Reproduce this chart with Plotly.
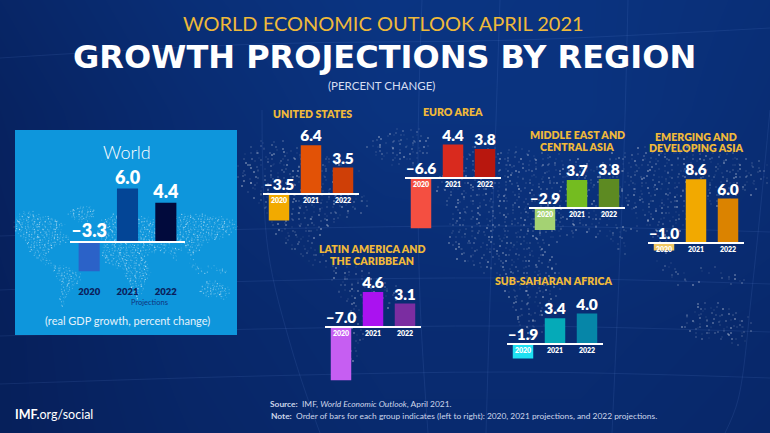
import plotly.graph_objects as go

# ---- data ----
years = ["2020", "2021", "2022"]
world = [-3.3, 6.0, 4.4]
united_states = [-3.5, 6.4, 3.5]
euro_area = [-6.6, 4.4, 3.8]
middle_east = [-2.9, 3.7, 3.8]
emerging_asia = [-1.0, 8.6, 6.0]
latin_america = [-7.0, 4.6, 3.1]
sub_saharan = [-1.9, 3.4, 4.0]

FONT = "Lato"
W, H = 770, 433
GOLD = "#efb93a"

# panel: values, colours, axis line x0, x1, zero-line y, px per unit, label size, bar width
panels = [
    (world, ["#2b62c8", "#034596", "#010a3c"], 70, 185, 242, 8.9, 18, 0.55),
    (united_states, ["#f2aa00", "#e25206", "#cf3f07"], 263, 359, 194, 7.6, 15.5, 0.64),
    (euro_area, ["#f44f41", "#d92a1e", "#b8170e"], 405, 501, 178, 7.6, 15.5, 0.64),
    (middle_east, ["#a4d273", "#74bc20", "#5d8a22"], 529, 625, 208, 7.6, 15.5, 0.64),
    (emerging_asia, ["#f0c763", "#f2a900", "#db8300"], 648, 744, 243, 7.4, 15.5, 0.64),
    (latin_america, ["#c65ef2", "#aa12f0", "#7b2da1"], 325, 421, 327, 7.6, 15.5, 0.64),
    (sub_saharan, ["#1fe0f2", "#05aab8", "#0686a8"], 507, 603, 344, 7.6, 15.5, 0.64),
]

# background shading (rows top to bottom)
bg_x = [0, 190, 385, 580, 770]
bg_y = [0, 110, 220, 330, 433]
bg_z = [
    [0.25, 0.55, 0.75, 0.70, 0.55],
    [0.15, 0.45, 0.70, 0.70, 0.50],
    [0.10, 0.40, 0.55, 0.60, 0.45],
    [0.05, 0.30, 0.45, 0.45, 0.35],
    [0.05, 0.25, 0.40, 0.40, 0.30],
]

# speckled world map: rows of land extents
map_rows = {
    132: [(390, 425)], 138: [(375, 430)], 144: [(258, 285), (370, 432)],
    150: [(250, 300), (370, 430), (470, 500), (510, 530), (640, 700)],
    156: [(245, 330), (375, 425), (460, 505), (505, 560), (610, 740)],
    162: [(242, 345), (390, 415), (450, 510), (505, 590), (605, 760)],
    168: [(240, 355), (455, 515), (510, 770)], 174: [(240, 360), (445, 770)],
    180: [(240, 350), (440, 770)], 186: [(245, 345), (440, 760)],
    192: [(250, 355), (440, 750)], 198: [(255, 370), (445, 735)],
    204: [(260, 372), (450, 730)], 210: [(265, 365), (455, 620), (630, 700)],
    216: [(270, 350), (450, 615), (640, 690)], 222: [(272, 340), (450, 610), (645, 685)],
    228: [(275, 330), (450, 600), (610, 640), (650, 680)],
    234: [(278, 322), (450, 575), (590, 630), (655, 675)],
    240: [(283, 315), (450, 555), (612, 628), (655, 670)],
    246: [(290, 315), (452, 550), (615, 625)],
    252: [(297, 318), (455, 550), (618, 625), (660, 668)],
    258: [(305, 325), (460, 555)], 264: [(315, 335), (470, 555), (660, 672)],
    270: [(335, 360), (485, 560), (665, 680), (700, 715)],
    276: [(335, 375), (500, 560), (670, 690), (720, 740)],
    282: [(335, 385), (505, 565), (680, 700), (730, 750)],
    288: [(338, 395), (505, 560)], 294: [(340, 398), (508, 558)],
    300: [(345, 396), (510, 555)], 306: [(350, 392), (512, 552), (695, 720)],
    312: [(350, 385), (515, 550), (690, 735)], 318: [(352, 380), (515, 548), (685, 748)],
    324: [(352, 375), (518, 545), (685, 752)], 330: [(352, 372), (520, 542), (685, 750)],
    336: [(352, 368), (522, 538), (695, 745)], 342: [(350, 365), (525, 535), (730, 745)],
    348: [(350, 362)], 354: [(350, 358)], 360: [(352, 358)],
}
jitter_x = [0, 3, -2, 2, -3, 1, 3, -1, -3, 2, 0, -2, 1, 3, -1, 2, -2]
jitter_y = [2, -3, 1, 3, -1, -2, 3, 0, -3, 2, -1, 1, -2, 3, -3]
shade = [0.6, 0.18, 0.32, 0.12, 0.45, 0.22, 0.1, 0.38, 0.15, 0.28, 0.7]

# faint graticule lines
grid_lines = [
    ([0, 260, 520, 770], [290, 281, 278, 284]),
    ([0, 260, 520, 770], [236, 229, 226, 232]),
    ([0, 260, 520, 770], [336, 329, 326, 332]),
    ([0, 260, 520, 770], [384, 376, 372, 378]),
    ([0, 260, 520, 770], [58, 44, 40, 28]),
    ([262, 268, 292, 320], [110, 250, 350, 433]),
    ([422, 418, 420, 428], [0, 150, 300, 433]),
    ([500, 495, 490, 486], [0, 150, 300, 433]),
    ([628, 624, 618, 612], [0, 150, 300, 433]),
    ([770, 752, 738, 725], [110, 290, 400, 433]),
]

fig = go.Figure()

# full-bleed pixel subplot holding the backdrop
fig.add_trace(go.Heatmap(x=bg_x, y=bg_y, z=bg_z, zmin=0, zmax=1, zsmooth="best",
                         colorscale=[[0, "#061e58"], [1, "#0c3c90"]], showscale=False,
                         hoverinfo="skip"))
for gx, gy in grid_lines:
    fig.add_trace(go.Scatter(x=gx, y=gy, mode="lines", hoverinfo="skip", showlegend=False,
                             line=dict(color="rgba(140,180,255,0.10)", width=1, shape="spline")))

dx, dy, da = [], [], []
n_pt = 0
for row, spans in map_rows.items():
    for a, b in spans:
        for px in range(a, b, 4):
            dx.append(px + jitter_x[n_pt % len(jitter_x)])
            dy.append(row + jitter_y[n_pt % len(jitter_y)])
            da.append(shade[n_pt % len(shade)])
            n_pt += 1
fig.add_trace(go.Scatter(x=dx, y=dy, mode="markers", hoverinfo="skip", showlegend=False,
                         marker=dict(size=1.5, color=[f"rgba(255,255,255,{a})" for a in da],
                                     line=dict(width=0))))

# world box and its miniature map
fig.add_trace(go.Scatter(x=[15, 237, 237, 15, 15], y=[130, 130, 335, 335, 130], mode="lines",
                         fill="toself", fillcolor="#0e96dc", line=dict(width=0),
                         hoverinfo="skip", showlegend=False))
fig.add_trace(go.Scatter(x=[15 + (p - 240) * 0.419 for p in dx],
                         y=[205 + (q - 126) * 0.43 for q in dy],
                         mode="markers", hoverinfo="skip", showlegend=False,
                         marker=dict(size=1.3, color=[f"rgba(255,255,255,{a * 0.8:.2f})" for a in da],
                                     line=dict(width=0))))

layout = dict(
    width=W, height=H, margin=dict(l=0, r=0, t=0, b=0), autosize=False,
    paper_bgcolor="#08276c", plot_bgcolor="rgba(0,0,0,0)", showlegend=False,
    font=dict(family=FONT, color="white"),
    xaxis=dict(domain=[0, 1], range=[0, W], visible=False, fixedrange=True),
    yaxis=dict(domain=[0, 1], range=[H, 0], visible=False, fixedrange=True),
)

Y_LOW, Y_HIGH = -8, 9
for i, (vals, cols, x0, x1, y0, s, fs, bw) in enumerate(panels):
    n = i + 2
    xa, ya = f"x{n}", f"y{n}"
    fig.add_trace(go.Bar(x=years, y=vals, marker=dict(color=cols, line=dict(width=0)),
                         width=bw, xaxis=xa, yaxis=ya, hoverinfo="skip"))
    fig.add_trace(go.Scatter(x=years, y=[max(v, 0) for v in vals],
                             text=[f"{v:.1f}".replace("-", "\u2013") for v in vals],
                             mode="text", textposition="top center", cliponaxis=False,
                             textfont=dict(family=FONT, size=fs, color="white", weight=800),
                             xaxis=xa, yaxis=ya, hoverinfo="skip"))
    is_world = i == 0
    layout[f"xaxis{n}"] = dict(
        domain=[x0 / W, x1 / W], type="category", range=[-0.5, 2.5], fixedrange=True,
        anchor="free", position=1 - y0 / H,
        showline=True, linecolor="white", linewidth=1.5, showgrid=False, zeroline=False,
        ticks="outside", ticklen=41 if is_world else 0, tickcolor="rgba(0,0,0,0)", tickwidth=1,
        tickfont=dict(family=FONT, size=9.5 if is_world else 7,
                      color="#0b1f5c" if is_world else "white", weight=800),
    )
    layout[f"yaxis{n}"] = dict(
        domain=[1 - (y0 - Y_LOW * s) / H, 1 - (y0 - Y_HIGH * s) / H],
        range=[Y_LOW, Y_HIGH], visible=False, fixedrange=True, anchor=xa,
    )


def label(text, x, y, size, color="white", weight=400, xanchor="center", family=FONT):
    return dict(text=text, x=x, y=y, xref="x", yref="y", showarrow=False, xanchor=xanchor,
                yanchor="middle", align="center",
                font=dict(family=family, size=size, color=color, weight=weight))


annots = [
    label("WORLD ECONOMIC OUTLOOK APRIL 2021", 383, 23, 20, GOLD),
    label("GROWTH PROJECTIONS BY REGION", 384, 57, 32, "white", 700, family="DejaVu Sans"),
    label("(PERCENT CHANGE)", 381, 85, 11.5, "#d5def2"),
    label("World", 127, 152, 18, "white", 300),
    label("Projections", 149, 302, 7.5, "#10357e"),
    label("(real GDP growth, percent change)", 127, 320, 11, "#e4f2fb"),
    label("UNITED STATES", 312, 114, 10.6, GOLD, 800),
    label("EURO AREA", 453, 112, 10.6, GOLD, 800),
    label("MIDDLE EAST AND", 577, 135, 10.6, GOLD, 800),
    label("CENTRAL ASIA", 577, 147, 10.6, GOLD, 800),
    label("EMERGING AND", 696, 137, 10.6, GOLD, 800),
    label("DEVELOPING ASIA", 696, 148, 10.6, GOLD, 800),
    label("LATIN AMERICA AND", 372, 249, 10.6, GOLD, 800),
    label("THE CARIBBEAN", 372, 261, 10.6, GOLD, 800),
    label("SUB-SAHARAN AFRICA", 553, 281, 10.6, GOLD, 800),
    label("<b>Source:</b>  IMF, <i>World Economic Outlook</i>, April 2021.", 268, 404, 8.4,
          "#cdd6ea", xanchor="left"),
    label("<b>Note:</b>  Order of bars for each group indicates (left to right): 2020, 2021 projections, and 2022 projections.",
          269, 416, 8.4, "#cdd6ea", xanchor="left"),
    label("<b>IMF.</b>org/social", 13, 414, 12.5, "white", xanchor="left"),
]
layout["annotations"] = annots
fig.update_layout(**layout)
fig.write_html("out.html", config=dict(displayModeBar=False),
               post_script="document.body.style.margin='0';document.documentElement.style.overflow='hidden';")
